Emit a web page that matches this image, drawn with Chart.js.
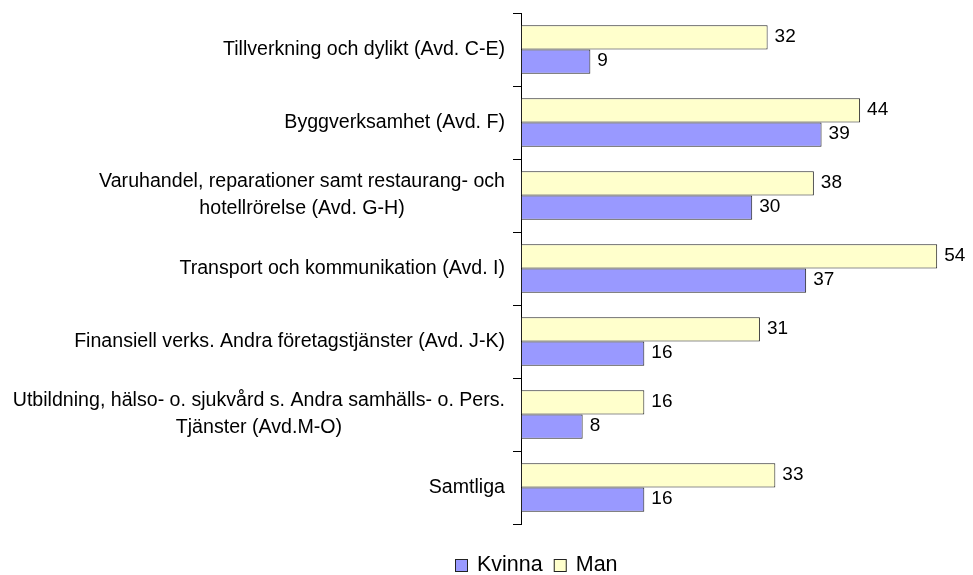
<!DOCTYPE html>
<html>
<head>
<meta charset="utf-8">
<script src="https://cdn.jsdelivr.net/npm/chart.js@4.4.0/dist/chart.umd.min.js"></script>
<style>
  html, body { margin: 0; padding: 0; background: #fff; }
  #wrap { width: 973px; height: 575px; }
</style>
</head>
<body>
<div id="wrap"><canvas id="chart" width="973" height="575"></canvas></div>
<script>
// DATA
const categories = [
  "Tillverkning och dylikt (Avd. C-E)",
  "Byggverksamhet (Avd. F)",
  ["Varuhandel, reparationer samt restaurang- och", "hotellrörelse (Avd. G-H)"],
  "Transport och kommunikation (Avd. I)",
  "Finansiell verks. Andra företagstjänster (Avd. J-K)",
  ["Utbildning, hälso- o. sjukvård s. Andra samhälls- o. Pers.", "Tjänster (Avd.M-O)"],
  "Samtliga",
];
const man = [32, 44, 38, 54, 31, 16, 33];
const kvinna = [9, 39, 30, 37, 16, 8, 16];
const seriesNames = ["Man", "Kvinna"];
const xMax = 58;

const FONT = "'Liberation Sans', Arial, sans-serif";

// etiketter till vänster: högerjusterade, flerradiga centrerade inbördes
const yLabelsPlugin = {
  id: "yLabels",
  afterDraw(chart) {
    const ctx = chart.ctx;
    const yScale = chart.scales.y;
    const right = yScale.right - 16;
    ctx.save();
    ctx.font = "19.6px " + FONT;
    ctx.fillStyle = "#000";
    ctx.textBaseline = "middle";
    ctx.textAlign = "center";
    categories.forEach((lab, i) => {
      const lines = Array.isArray(lab) ? lab : [lab];
      const maxW = Math.max(...lines.map((l) => ctx.measureText(l).width));
      const cx = right - maxW / 2;
      const cy = yScale.getPixelForValue(i);
      const lh = 27;
      lines.forEach((l, j) => {
        ctx.fillText(l, cx, cy + (j - (lines.length - 1) / 2) * lh);
      });
    });
    ctx.restore();
  },
};

// värden vid staplarnas ände
const valueLabelsPlugin = {
  id: "valueLabels",
  afterDatasetsDraw(chart) {
    const ctx = chart.ctx;
    ctx.save();
    ctx.font = "19px " + FONT;
    ctx.fillStyle = "#000";
    ctx.textBaseline = "middle";
    ctx.textAlign = "left";
    chart.data.datasets.forEach((ds, di) => {
      const meta = chart.getDatasetMeta(di);
      meta.data.forEach((bar, i) => {
        ctx.fillText(String(ds.data[i]), bar.x + 7, bar.y - 1);
      });
    });
    ctx.restore();
  },
};

// legend nedtill: Kvinna, Man
const legendPlugin = {
  id: "customLegend",
  afterDraw(chart) {
    const ctx = chart.ctx;
    const items = chart.data.datasets.slice().reverse();
    ctx.save();
    ctx.font = "21.5px " + FONT;
    ctx.textBaseline = "middle";
    ctx.textAlign = "left";
    let x = 455;
    const y = 565;
    items.forEach((ds) => {
      ctx.fillStyle = ds.backgroundColor;
      ctx.fillRect(x, y - 6, 13, 13);
      ctx.strokeStyle = "#222";
      ctx.lineWidth = 1;
      ctx.strokeRect(x + 0.5, y - 5.5, 12, 12);
      ctx.fillStyle = "#000";
      ctx.fillText(ds.label, x + 22, y);
      x += 22 + ctx.measureText(ds.label).width + 11;
    });
    ctx.restore();
  },
};

new Chart(document.getElementById("chart"), {
  type: "bar",
  data: {
    labels: categories,
    datasets: [
      {
        label: seriesNames[0],
        data: man,
        backgroundColor: "#FFFFCC",
        borderColor: "#222",
        borderWidth: 1,
        borderSkipped: false,
      },
      {
        label: seriesNames[1],
        data: kvinna,
        backgroundColor: "#9999FF",
        borderColor: "#222",
        borderWidth: 1,
        borderSkipped: false,
      },
    ],
  },
  options: {
    indexAxis: "y",
    responsive: false,
    animation: false,
    layout: { padding: { top: 13, left: 0, right: 5, bottom: 51 } },
    datasets: { bar: { barPercentage: 1, categoryPercentage: 0.666 } },
    scales: {
      x: {
        display: false,
        min: 0,
        max: xMax,
      },
      y: {
        ticks: { display: false },
        grid: {
          offset: true,
          drawOnChartArea: false,
          drawTicks: true,
          tickLength: 8,
          color: "#000",
        },
        border: { display: true, color: "#000" },
        afterFit(scale) {
          scale.width = 521;
        },
      },
    },
    plugins: {
      legend: { display: false },
      tooltip: { enabled: false },
    },
  },
  plugins: [yLabelsPlugin, valueLabelsPlugin, legendPlugin],
});
</script>
</body>
</html>
